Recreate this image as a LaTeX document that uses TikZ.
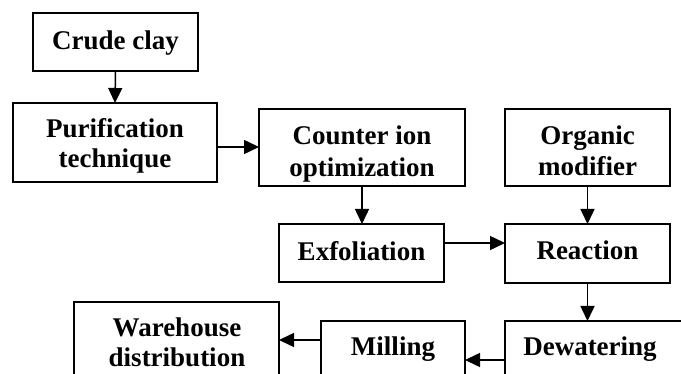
\documentclass[tikz,border=0pt]{standalone}
\usepackage{fontspec}
\setmainfont{Liberation Serif}
\usetikzlibrary{arrows.meta}
\begin{document}
\begin{tikzpicture}[x=1pt,y=-1pt,
  frame/.style={draw=black,line width=1.8pt,rectangle,inner sep=0pt,outer sep=0pt},
  lbl/.style={font=\fontsize{27}{31}\selectfont\bfseries,anchor=base,inner sep=0pt},
  conn/.style={line width=1.5pt,-{Triangle[length=15pt,width=14pt]}}]
\useasboundingbox (0,0) rectangle (681,374);
\clip (0,0) rectangle (681,374);
\fill[white] (0,0) rectangle (681,374);
% frames
\node[frame,minimum width=165pt,minimum height=58pt] (crude) at (115.5,42) {};
\node[frame,minimum width=204pt,minimum height=79pt] (puri) at (115,142.5) {};
\node[frame,minimum width=206pt,minimum height=77pt] (counter) at (362,147.5) {};
\node[frame,minimum width=165pt,minimum height=77pt] (organic) at (587.5,147.5) {};
\node[frame,minimum width=165pt,minimum height=58pt] (exfo) at (361.5,253) {};
\node[frame,minimum width=165pt,minimum height=59pt] (react) at (587.5,253.5) {};
\node[frame,minimum width=195pt,minimum height=79pt] (dew) at (602.5,360.5) {};
\node[frame,minimum width=144pt,minimum height=79pt] (mill) at (393,360.5) {};
\node[frame,minimum width=205pt,minimum height=98pt] (ware) at (176.5,351) {};
% texts
\node[lbl] (t1) at (115.5,50) {Crude clay};
\node[lbl] (t2a) at (115,138) {Purification};
\node[lbl] (t2b) at (115,168) {technique};
\begin{scope}
\clip (260,110) rectangle (464,185);
\node[lbl] (t3a) at (362,145) {Counter ion};
\node[lbl] (t3b) at (362,177) {optimization};
\end{scope}
\node[lbl] (t4a) at (587.5,145) {Organic};
\node[lbl] (t4b) at (587.5,176) {modifier};
\node[lbl] (t5) at (361.5,261) {Exfoliation};
\node[lbl] (t6) at (587.5,260) {Reaction};
\node[lbl] (t7) at (590,356) {Dewatering};
\node[lbl] (t8) at (393,356) {Milling};
\node[lbl] (t9a) at (177,337) {Warehouse};
\node[lbl] (t9b) at (177,367) {distribution};
% connectors
\draw[conn] (crude.south) -- (puri.north);
\draw[conn] (puri.east |- 0,147) -- (counter.west |- 0,147);
\draw[conn] (counter.south) -- (exfo.north -| counter.south);
\draw[conn] (organic.south) -- (react.north);
\draw[conn] (exfo.east |- 0,243) -- (react.west |- 0,243);
\draw[conn] (react.south) -- (react.south |- dew.north);
\draw[conn] (dew.west |- 0,360) -- (mill.east |- 0,360);
\draw[conn] (mill.west |- 0,340) -- (ware.east |- 0,340);
\end{tikzpicture}
\end{document}
